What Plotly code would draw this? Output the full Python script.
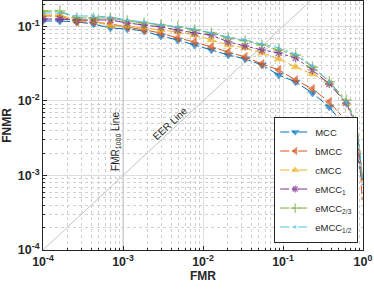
import plotly.graph_objects as go

FMR = [1e-4, 1.624e-4, 2.637e-4, 4.281e-4, 6.952e-4, 1.129e-3, 1.833e-3, 2.976e-3,
       4.833e-3, 7.848e-3, 0.01274, 0.02069, 0.0336, 0.05456, 0.08859, 0.1438,
       0.2336, 0.3793, 0.6158, 0.75, 0.85, 0.93, 0.98]
N_MARK = 19

MCC = [0.1186, 0.1186, 0.1149, 0.108, 0.0955, 0.0926, 0.0870, 0.0745, 0.0659, 0.0564,
       0.0484, 0.0414, 0.0366, 0.0304, 0.0223, 0.0180, 0.0128, 0.0083, 0.00434,
       0.0030, 0.00188, 0.00102, 0.00075]
bMCC = [0.1384, 0.1384, 0.1149, 0.1149, 0.108, 0.0985, 0.0897, 0.0818, 0.0701, 0.0619,
        0.0531, 0.0455, 0.0390, 0.0314, 0.0261, 0.0191, 0.0145, 0.0097, 0.00539,
        0.00384, 0.00257, 0.00119, 0.00043]
cMCC = [0.1426, 0.1426, 0.1223, 0.1186, 0.1015, 0.1015, 0.0955, 0.0897, 0.0844, 0.0769,
        0.0659, 0.0564, 0.0515, 0.0441, 0.0366, 0.0286, 0.0230, 0.0175, 0.0094,
        0.00591, 0.0035, 0.00162, 0.00075]
eMCC_1 = [0.126, 0.126, 0.1223, 0.1223, 0.1223, 0.1114, 0.1047, 0.0985, 0.0897, 0.0818,
          0.0769, 0.0619, 0.0547, 0.0484, 0.0441, 0.0378, 0.0261, 0.0169, 0.0094,
          0.00591, 0.0035, 0.00162, 0.00087]
eMCC_23 = [0.1615, 0.1615, 0.130, 0.130, 0.130, 0.1186, 0.1114, 0.1047, 0.0985, 0.0897,
           0.0818, 0.0701, 0.0639, 0.0564, 0.0484, 0.0414, 0.0286, 0.0180, 0.0103,
           0.00648, 0.00408, 0.00188, 0.00087]
eMCC_12 = [0.152, 0.152, 0.1384, 0.1384, 0.134, 0.1223, 0.1149, 0.1047, 0.0985, 0.0926,
           0.0818, 0.0723, 0.0659, 0.0582, 0.0515, 0.0428, 0.0295, 0.0180, 0.0097,
           0.0061, 0.00372, 0.00172, 0.00093]

series = [
    ("MCC", MCC, "#0072BD", "triangle-down", 8, 0.5),
    ("bMCC", bMCC, "#D95319", "triangle-left", 8, 0.5),
    ("cMCC", cMCC, "#EDB120", "triangle-up", 8, 0.5),
    ("eMCC<sub>1</sub>", eMCC_1, "#7E2F8E", "asterisk-open", 7, 1.3),
    ("eMCC<sub>2/3</sub>", eMCC_23, "#77AC30", "cross-thin-open", 8, 1.3),
    ("eMCC<sub>1/2</sub>", eMCC_12, "#4DBEEE", "circle", 3, 0.5),
]

x_ticks = [1e-4, 1e-3, 1e-2, 1e-1, 1]
x_ticktext = ["<b>10<sup>-4</sup></b>", "<b>10<sup>-3</sup></b>", "<b>10<sup>-2</sup></b>",
              "<b>10<sup>-1</sup></b>", "<b>10<sup>0</sup></b>"]
y_ticks = [1e-4, 1e-3, 1e-2, 1e-1]
y_ticktext = ["<b>10<sup>-4</sup></b>", "<b>10<sup>-3</sup></b>", "<b>10<sup>-2</sup></b>",
              "<b>10<sup>-1</sup></b>"]

fig = go.Figure()

# reference lines
fig.add_trace(go.Scatter(x=[1e-4, 1], y=[1e-4, 1], mode="lines",
                         line=dict(color="#c4c4c4", width=1), showlegend=False, hoverinfo="skip"))
fig.add_trace(go.Scatter(x=[1e-3, 1e-3], y=[1e-4, 1], mode="lines",
                         line=dict(color="#c4c4c4", width=1), showlegend=False, hoverinfo="skip"))

for name, vals, color, sym, size, lw in series:
    sizes = [size] * N_MARK + [0] * (len(FMR) - N_MARK)
    fig.add_trace(go.Scatter(
        x=FMR, y=vals, name=name, mode="lines+markers",
        line=dict(color=color, width=1, dash="dashdot"),
        marker=dict(symbol=sym, size=sizes, color=color,
                    line=dict(color=color, width=lw)),
    ))

fig.add_annotation(x=-3, y=-2.55, xref="x", yref="y", text="FMR<sub>1000</sub> Line",
                   textangle=-90, showarrow=False, xshift=-7,
                   font=dict(size=10, color="#262626"))
fig.add_annotation(x=-2.36, y=-2.36, xref="x", yref="y", text="EER Line",
                   textangle=-43, showarrow=False, xshift=-4, yshift=4,
                   font=dict(size=10, color="#262626"))

grid_major = "#dedede"
axis_common = dict(
    type="log", showline=True, linecolor="#262626", linewidth=1, mirror=True,
    ticks="inside", ticklen=4, tickcolor="#262626",
    showgrid=True, gridcolor=grid_major, gridwidth=1, zeroline=False,
    tickfont=dict(size=12.5, color="#262626"),
    minor=dict(dtick="D1", showgrid=True, gridcolor="#d0d0d0", griddash="dot",
               ticks="inside", ticklen=2, tickcolor="#262626"),
)

fig.update_layout(
    width=374, height=289,
    margin=dict(l=43, r=11, t=1, b=39),
    paper_bgcolor="white", plot_bgcolor="white",
    font=dict(family="Liberation Sans, Arial, sans-serif", color="#262626"),
    xaxis=dict(axis_common, range=[-4, 0], tickvals=x_ticks, ticktext=x_ticktext,
               automargin=False,
               title=dict(text="<b>FMR</b>", font=dict(size=12), standoff=2)),
    yaxis=dict(axis_common, range=[-4, -0.658], tickvals=y_ticks, ticktext=y_ticktext,
               automargin=False,
               title=dict(text="<b>FNMR</b>", font=dict(size=12), standoff=4)),
    legend=dict(x=0.985, y=0.03, xanchor="right", yanchor="bottom",
                bgcolor="white", bordercolor="#262626", borderwidth=1,
                font=dict(size=9.5), itemwidth=30, tracegroupgap=0),
)

fig.write_html("out.html", config={"displayModeBar": False},
               post_script="document.body.style.margin='0px';")
